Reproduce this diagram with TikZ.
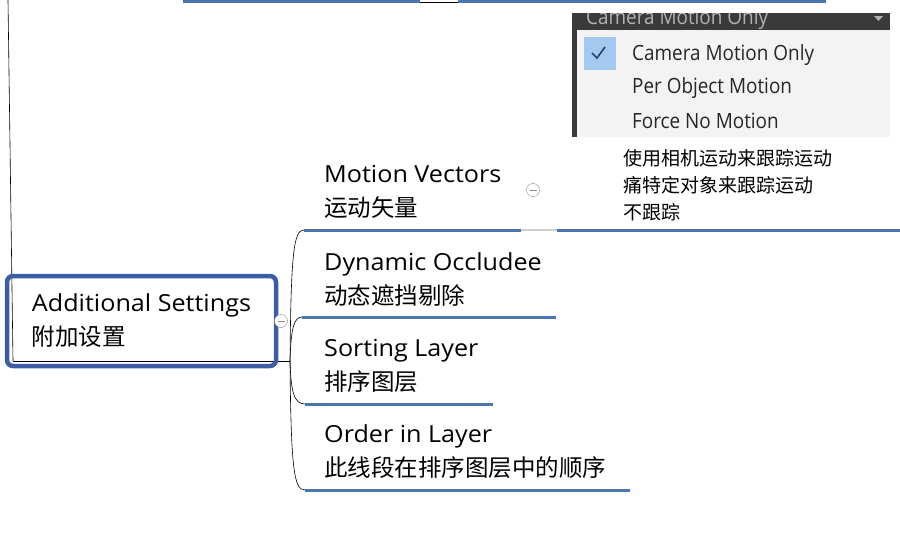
\documentclass[tikz,border=0pt]{standalone}
\usepackage{fontspec}
\setmainfont[FakeStretch=1.07]{Open Sans}
\newfontfamily\cjk{Noto Sans CJK SC}
\newfontfamily\menufont[FakeStretch=0.9]{Open Sans}
\definecolor{cline}{HTML}{4A76B2}
\definecolor{cbox}{HTML}{3C5DA6}
\definecolor{cgrey}{HTML}{8A8A8A}
\definecolor{clight}{HTML}{CFCFCF}
\definecolor{cdark}{HTML}{3A3A3A}
\definecolor{cpanel}{HTML}{F3F3F3}
\definecolor{ccheck}{HTML}{A3CAEE}
\definecolor{ctick}{HTML}{1F3F7A}

\begin{document}
\begin{tikzpicture}[x=1pt,y=-1pt,
  rootbox/.style={draw=cbox,line width=4.5pt,rounded corners=6pt,
    minimum width=269pt,minimum height=90pt,align=left,
    font=\fontsize{23.5}{34}\selectfont},
  topic/.style={anchor=west,align=left,inner sep=0pt,
    font=\fontsize{23.5}{34}\selectfont},
  note/.style={anchor=west,align=left,inner sep=0pt,
    font=\fontsize{19}{27}\selectfont\cjk},
  menu/.style={anchor=west,inner sep=0pt,text=black!85,
    font=\fontsize{21}{24}\selectfont\menufont},
  link/.style={black,line width=0.6pt},
  glink/.style={clight,line width=2pt},
  uline/.style={cline,line width=3pt},
  fold/.style={circle,draw=cgrey,fill=white,minimum size=13pt,inner sep=0pt,
    path picture={\draw[cgrey] ([xshift=-3.5pt]path picture bounding box.center)
      -- ([xshift=3.5pt]path picture bounding box.center);}}]
  \useasboundingbox (0,0) rectangle (900,546);

  % cut-off parent above
  \coordinate (parL) at (183,1);
  \coordinate (parM) at (420,1);
  \coordinate (parN) at (458,1);
  \coordinate (parR) at (826,1);
  \coordinate (parent) at (8,0);
  \draw[uline] (parL) -- (parM);
  \draw[link] ([yshift=-1pt]parM) -- ([yshift=-1pt]parN);
  \draw[uline] (parN) -- (parR);

  % root
  \coordinate (rootL) at (13,361);
  \coordinate (rootR) at (290,361);
  \draw[link] (parent) -- (rootL);
  \draw[link] (rootL) -- (rootR);
  \node[rootbox] (root) at (141.5,321) {Additional Settings\\{\cjk 附加设置}};
  \node[fold] (rootfold) at (281,321) {};

  % children
  \node[topic] (mv) at (324,192) {Motion Vectors\\{\cjk 运动矢量}};
  \node[topic] (do) at (324,279) {Dynamic Occludee\\{\cjk 动态遮挡剔除}};
  \node[topic] (sl) at (324,366) {Sorting Layer\\{\cjk 排序图层}};
  \node[topic] (ol) at (324,452) {Order in Layer\\{\cjk 此线段在排序图层中的顺序}};

  \coordinate (mvL) at (304,230); \coordinate (mvR) at (521,230);
  \coordinate (doL) at (302,317); \coordinate (doR) at (556,317);
  \coordinate (slL) at (305,404); \coordinate (slR) at (493,404);
  \coordinate (olL) at (305,490); \coordinate (olR) at (630,490);

  \draw[link] (rootR) .. controls (291,250) and (294,230) .. (mvL);
  \draw[link] (rootR) .. controls (291,328) and (294,317) .. (doL);
  \draw[link] (rootR) .. controls (291,392) and (294,404) .. (slL);
  \draw[link] (rootR) .. controls (291,470) and (294,490) .. (olL);

  \draw[uline] (mvL) -- (mvR);
  \draw[uline] (doL) -- (doR);
  \draw[uline] (slL) -- (slR);
  \draw[uline] (olL) -- (olR);

  \node[fold] (mvfold) at (533,190) {};

  % motion vector modes
  \node[note] (cm) at (623,185) {使用相机运动来跟踪运动\\痛特定对象来跟踪运动\\不跟踪};
  \coordinate (cmL) at (557,230);
  \coordinate (cmR) at (900,230);
  \draw[glink] (mvR) -- (cmL);
  \draw[uline] (cmL) -- (cmR);

  % dropdown screenshot
  \begin{scope}
    \clip (572,13) rectangle (890,137);
    \fill[cdark] (572,13) rectangle (890,137);
    \fill[cpanel] (577,30) rectangle (890,137);
    \node[menu,text=black!30] (head) at (586,19) {Camera Motion Only};
    \fill[black!30] (874,16) -- (883,16) -- (878.5,21) -- cycle;
    \fill[ccheck] (584,37) rectangle (616,70);
    \draw[ctick,line width=1.6pt] (592,53) -- (597,58) -- (605,47);
    \node[menu] (opt1) at (632,55) {Camera Motion Only};
    \node[menu] (opt2) at (632,88) {Per Object Motion};
    \node[menu] (opt3) at (632,121) {Force No Motion};
  \end{scope}
\end{tikzpicture}
\end{document}
